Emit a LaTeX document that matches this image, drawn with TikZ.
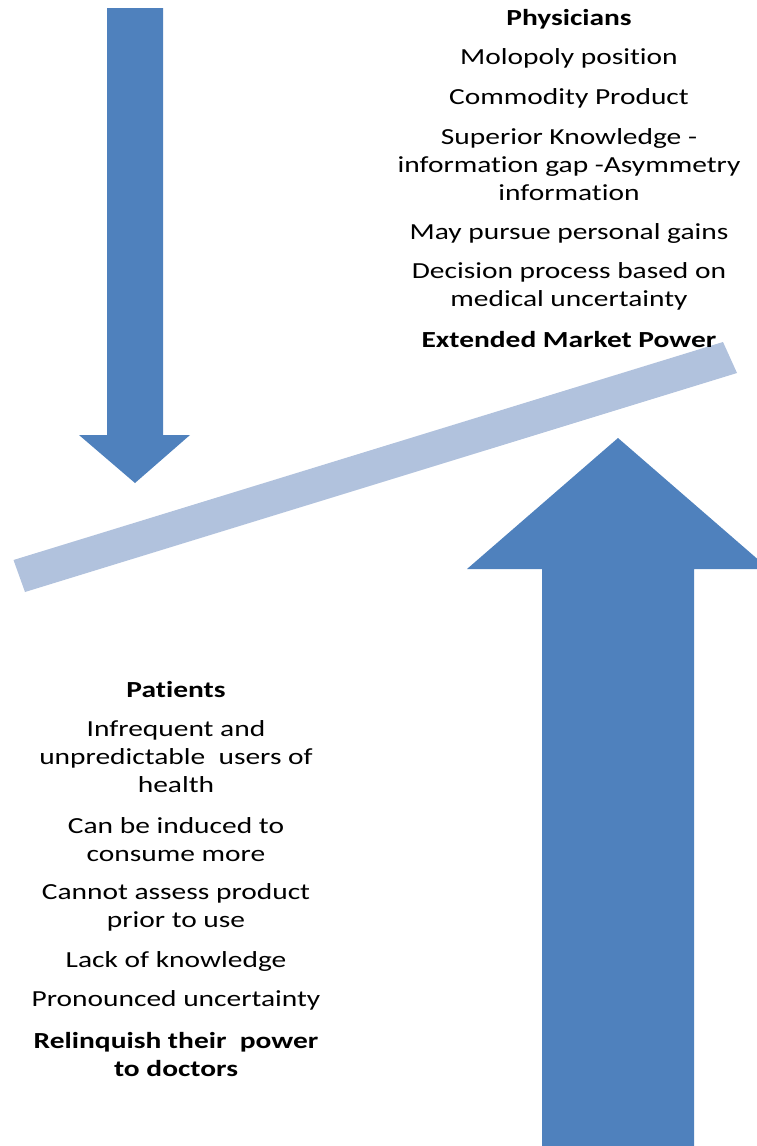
\documentclass[tikz,border=0pt]{standalone}
\usepackage{fontspec}
\setmainfont[FakeStretch=1.28,Ligatures={NoCommon}]{Carlito}
\definecolor{arrowblue}{HTML}{4F81BD}
\definecolor{barblue}{HTML}{B1C2DD}
\begin{document}
\begin{tikzpicture}[x=1pt,y=-1pt,
  txt/.style={align=center,inner sep=0pt,font=\fontsize{23}{28}\selectfont},
  boldtxt/.style={txt,font=\fontsize{23}{28}\selectfont\bfseries},
  arrowshape/.style={fill=arrowblue,draw=none},
  barshape/.style={fill=barblue,draw=none}]
\useasboundingbox (0,0) rectangle (757,1146);
\begin{scope}
\clip (0,0) rectangle (757,1146);
% down arrow (top left)
\fill[arrowshape] (107,8) -- (163,8) -- (163,435) -- (190,435) -- (135,483) -- (79,435) -- (107,435) -- cycle;
% seesaw bar
\fill[barshape] (13.5,560) -- (723,342) -- (737,373) -- (25,592) -- cycle;
% big up arrow
\fill[arrowshape] (542,1146) -- (542,569) -- (467,569) -- (618,438) -- (769,569) -- (694,569) -- (694,1146) -- cycle;
\end{scope}
% Physicians
\node[boldtxt] (ph) at (569,19) {Physicians};
\node[txt] (ph1) at (569,58) {Molopoly position};
\node[txt] (ph2) at (569,98) {Commodity Product};
\node[txt] (ph3) at (569,165) {Superior Knowledge -\\information gap -Asymmetry\\information};
\node[txt] (ph4) at (569,233) {May pursue personal gains};
\node[txt] (ph5) at (569,286) {Decision process based on\\medical uncertainty};
\node[boldtxt] (ph6) at (569,340) {Extended Market Power};
% Patients
\node[boldtxt] (pa) at (176,690) {Patients};
\node[txt] (pa1) at (176,757) {Infrequent and\\unpredictable\ \ users of\\health};
\node[txt] (pa2) at (176,840) {Can be induced to\\consume more};
\node[txt] (pa3) at (176,907) {Cannot assess product\\prior to use};
\node[txt] (pa4) at (176,961) {Lack of knowledge};
\node[txt] (pa5) at (176,1000) {Pronounced uncertainty};
\node[boldtxt] (pa6) at (176,1055) {Relinquish their\ \ power\\to doctors};
\end{tikzpicture}
\end{document}
